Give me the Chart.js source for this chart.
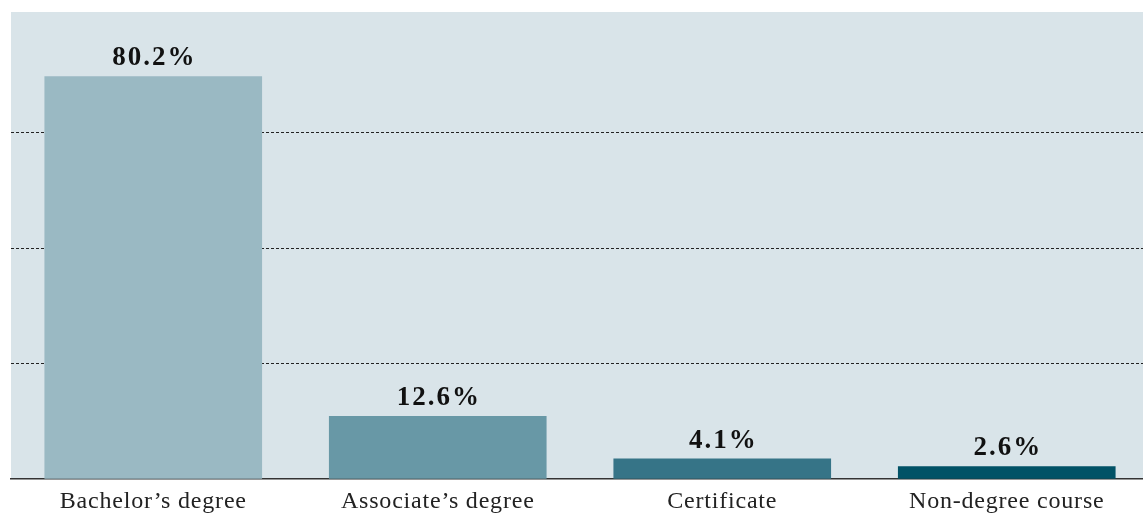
<!DOCTYPE html>
<html>
<head>
<meta charset="utf-8">
<script src="https://cdn.jsdelivr.net/npm/chart.js@4"></script>
<style>
  html, body { margin: 0; padding: 0; background: #fff; overflow: hidden; height: 515px; }
</style>
</head>
<body>
<canvas id="chart" width="1149" height="524"></canvas>
<script>
const categories = ["Bachelor\u2019s degree", "Associate\u2019s degree", "Certificate", "Non-degree course"];
const shares = [80.2, 12.6, 4.1, 2.6];
const gridTicks = [0, 23, 46, 69];
const barColors = ['#9ab9c3', '#6898a6', '#367487', '#015266'];

// fill the plot area and write the value over each bar
const panelBg = {
  id: 'panelBg',
  beforeDraw(chart) {
    const { ctx, chartArea: a } = chart;
    ctx.fillStyle = '#d9e4e9';
    ctx.fillRect(a.left, a.top, a.right - a.left, a.bottom - a.top);
    ctx.letterSpacing = '0.8px';
  }
};

const valueLabels = {
  id: 'valueLabels',
  afterDatasetsDraw(chart) {
    const ctx = chart.ctx;
    ctx.save();
    ctx.font = 'bold 27px "Liberation Serif", serif';
    ctx.letterSpacing = '2px';
    ctx.fillStyle = '#111';
    ctx.textAlign = 'center';
    ctx.textBaseline = 'alphabetic';
    chart.getDatasetMeta(0).data.forEach((bar, i) => {
      ctx.fillText(shares[i].toFixed(1) + '%', bar.x + 1, bar.y - 11);
    });
    ctx.restore();
  }
};

new Chart(document.getElementById('chart'), {
  type: 'bar',
  data: {
    labels: categories,
    datasets: [{
      data: shares,
      backgroundColor: barColors,
      borderWidth: 0,
      barPercentage: 0.765,
      categoryPercentage: 1
    }]
  },
  options: {
    responsive: false,
    animation: false,
    layout: { padding: { top: 12, left: 11, right: 0, bottom: 0 } },
    plugins: { legend: { display: false }, tooltip: { enabled: false } },
    scales: {
      x: {
        grid: { display: false, drawTicks: false },
        border: { color: '#333', width: 1.5 },
        ticks: {
          color: '#222',
          padding: 8,
          font: { family: '"Liberation Serif", serif', size: 24 }
        }
      },
      y: {
        min: 0,
        max: 93,
        afterBuildTicks(scale) {
          scale.ticks = gridTicks.map(v => ({ value: v }));
        },
        ticks: { display: false },
        border: { display: false, dash: [3, 2] },
        grid: {
          drawTicks: false,
          color: ctx => ctx.tick && ctx.tick.value === 0 ? 'rgba(0,0,0,0)' : '#222',
          lineWidth: 1
        }
      }
    }
  },
  plugins: [panelBg, valueLabels]
});
</script>
</body>
</html>
